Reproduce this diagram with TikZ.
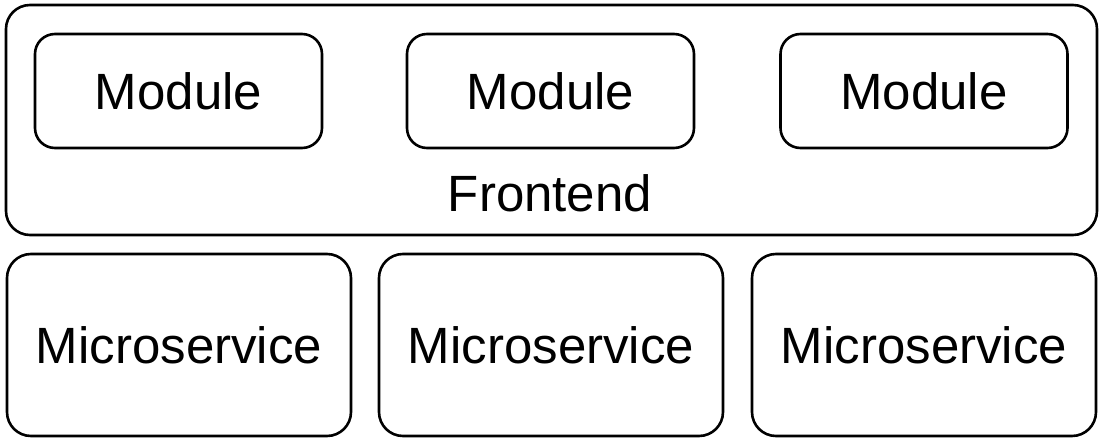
\documentclass[tikz,border=0pt]{standalone}
\usepackage{fontspec}
\setmainfont{Liberation Sans}
\usetikzlibrary{positioning}

\begin{document}
\begin{tikzpicture}[x=1pt,y=-1pt,
    box/.style={draw,line width=2.6pt,rounded corners=24pt,inner sep=0pt,outer sep=0pt,
                font=\fontsize{51}{60}\selectfont},
    module/.style={box,rounded corners=20pt,minimum width=287pt,minimum height=114pt},
    service/.style={box,minimum width=344pt,minimum height=182pt}]

                \useasboundingbox (0,0) rectangle (1104,442);

                % frontend with its modules
                \node[box,minimum width=1091pt,minimum height=230pt] (fe) at (551.5,120) {};
                \node[font=\fontsize{51}{60}\selectfont] (felabel) at (550,193) {Frontend};

                \node[module] (m1) at (178.5,91) {Module};
                \node[module] (m2) at (550.5,91) {Module};
                \node[module] (m3) at (924,91) {Module};

                % services below
                \node[service] (s1) at (179,345) {Microservice};
                \node[service] (s2) at (551,345) {Microservice};
                \node[service] (s3) at (924,345) {Microservice};

            \end{tikzpicture}
\end{document}
